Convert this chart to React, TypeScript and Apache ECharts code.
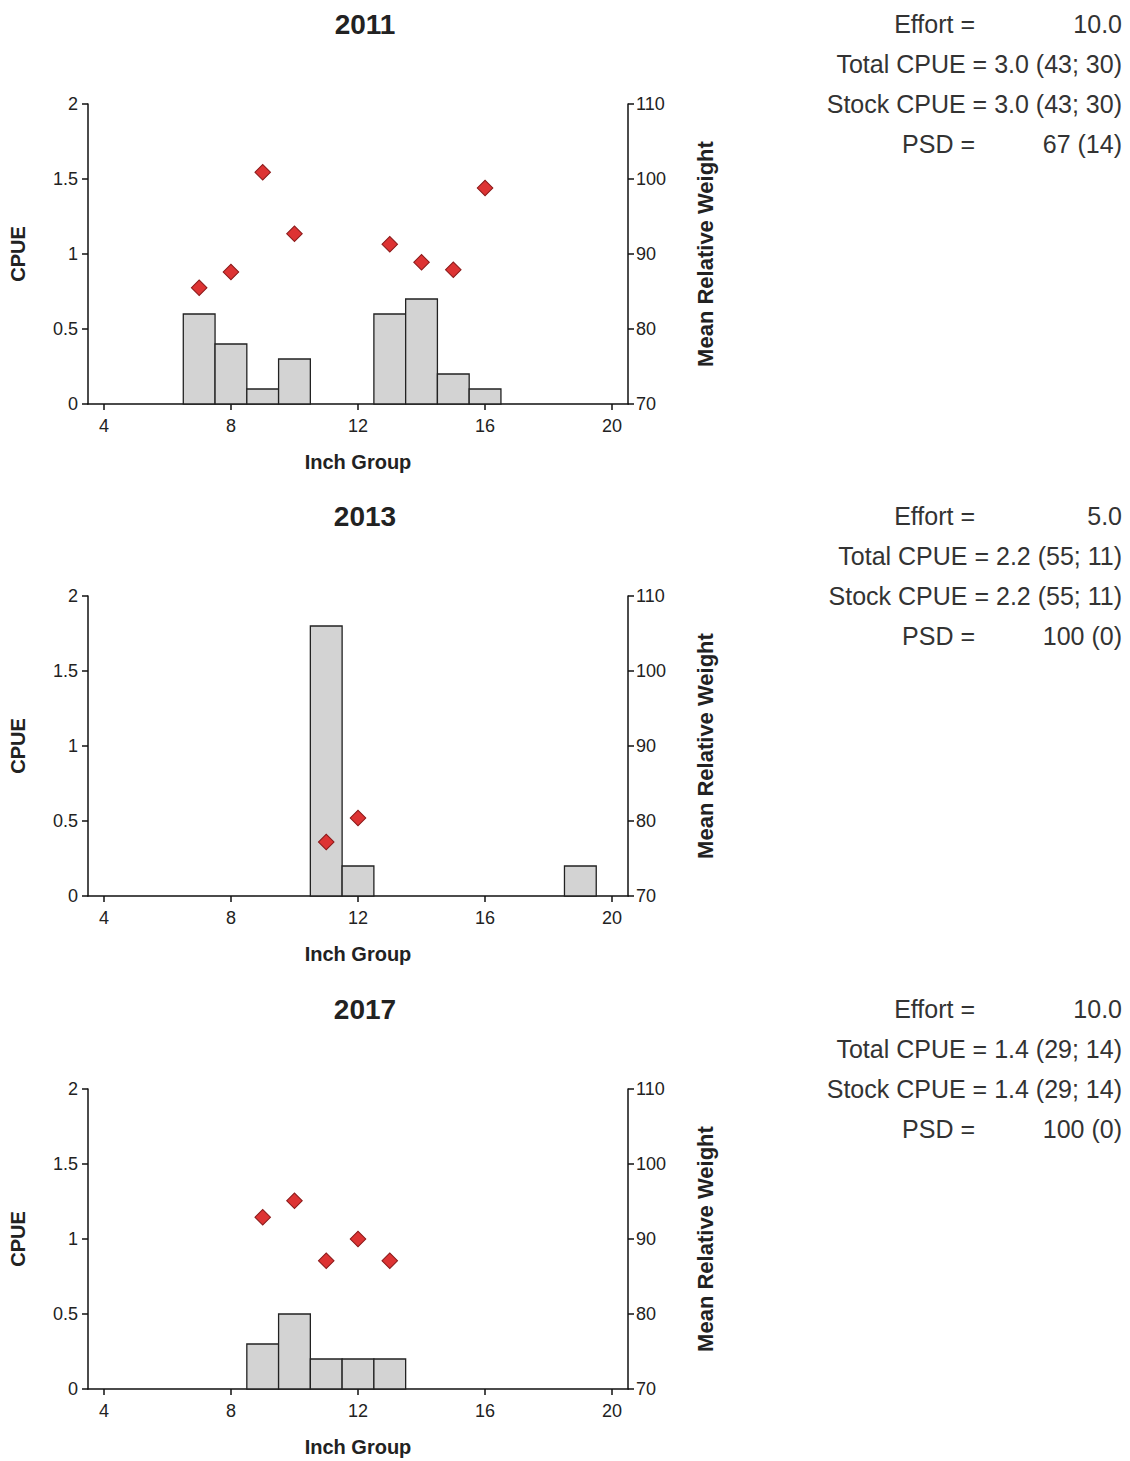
import { useEffect, useRef } from 'react';
import * as echarts from 'echarts';

const YEARS = ['2011', '2013', '2017'];
const BAR_X = [
  [7, 8, 9, 10, 13, 14, 15, 16],
  [11, 12, 19],
  [9, 10, 11, 12, 13],
];
const BAR_CPUE = [
  [0.6, 0.4, 0.1, 0.3, 0.6, 0.7, 0.2, 0.1],
  [1.8, 0.2, 0.2],
  [0.3, 0.5, 0.2, 0.2, 0.2],
];
const WR_X = [
  [7, 8, 9, 10, 13, 14, 15, 16],
  [11, 12],
  [9, 10, 11, 12, 13],
];
const WR_VAL = [
  [85.5, 87.6, 100.9, 92.7, 91.3, 88.9, 87.9, 98.8],
  [77.2, 80.4],
  [92.9, 95.1, 87.1, 90.0, 87.1],
];
const STATS_LABELS = ['Effort =', 'Total CPUE =', 'Stock CPUE =', 'PSD ='];
const STATS_VALUES = [
  ['10.0', '3.0 (43; 30)', '3.0 (43; 30)', '67 (14)'],
  ['5.0', '2.2 (55; 11)', '2.2 (55; 11)', '100 (0)'],
  ['10.0', '1.4 (29; 14)', '1.4 (29; 14)', '100 (0)'],
];
const X_TICKS = [4, 8, 12, 16, 20];

const FONT = 'Liberation Sans, Arial, sans-serif';
const TOPS = [104, 596, 1089];

export default function App() {
  const ref = useRef<HTMLDivElement>(null);

  useEffect(() => {
    if (!ref.current) return;
    document.body.style.margin = '0';
    const chart = echarts.init(ref.current, null, { renderer: 'svg' });

    const grid: any[] = [];
    const xAxis: any[] = [];
    const yAxis: any[] = [];
    const series: any[] = [];
    const graphic: any[] = [];
    const axisLine = { show: true, lineStyle: { color: '#111', width: 1.5 } };
    const tick = { show: true, length: 6, lineStyle: { color: '#111', width: 1.5 } };
    const axisLabel = { color: '#222', fontSize: 18, fontFamily: FONT };
    const nameStyle = { fontSize: 20, fontWeight: 'bold', color: '#222', fontFamily: FONT };

    TOPS.forEach((top, i) => {
      grid.push({ left: 88, top, width: 540, height: 300 });
      xAxis.push({
        type: 'value', gridIndex: i, min: 3.5, max: 20.5,
        name: 'Inch Group', nameLocation: 'middle', nameGap: 48,
        nameTextStyle: nameStyle,
        axisLine, splitLine: { show: false },
        axisTick: { ...tick, customValues: X_TICKS },
        axisLabel: { ...axisLabel, customValues: X_TICKS, margin: 13 },
      });
      yAxis.push({
        type: 'value', gridIndex: i, min: 0, max: 2, interval: 0.5,
        name: 'CPUE', nameLocation: 'middle', nameGap: 60, nameRotate: 90,
        nameTextStyle: nameStyle,
        axisLine, splitLine: { show: false },
        axisTick: tick,
        axisLabel: { ...axisLabel, margin: 10 },
      });
      yAxis.push({
        type: 'value', gridIndex: i, position: 'right', min: 70, max: 110, interval: 10,
        name: 'Mean Relative Weight', nameLocation: 'middle', nameGap: 66, nameRotate: 90,
        nameTextStyle: { ...nameStyle, fontSize: 22 },
        axisLine, splitLine: { show: false },
        axisTick: tick,
        axisLabel: { ...axisLabel, margin: 8 },
      });
      series.push({
        type: 'custom', xAxisIndex: i, yAxisIndex: i * 2,
        data: BAR_X[i].map((x, k) => [x, BAR_CPUE[i][k]]),
        renderItem: (_p: any, api: any) => {
          const x = api.value(0);
          const y = api.value(1);
          const a = api.coord([x - 0.5, y]);
          const b = api.coord([x + 0.5, 0]);
          return {
            type: 'rect',
            shape: { x: a[0], y: a[1], width: b[0] - a[0], height: b[1] - a[1] },
            style: { fill: '#d3d3d3', stroke: '#222', lineWidth: 1.3 },
          };
        },
        z: 2,
      });
      series.push({
        type: 'scatter', xAxisIndex: i, yAxisIndex: i * 2 + 1,
        data: WR_X[i].map((x, k) => [x, WR_VAL[i][k]]),
        symbol: 'rect', symbolSize: 11, symbolRotate: 45,
        itemStyle: { color: '#dd3333', borderColor: '#8a1a1a', borderWidth: 1, opacity: 1 },
        z: 3,
      });
      graphic.push({
        type: 'text', x: 365, y: top - 80,
        style: {
          text: YEARS[i], fontSize: 28, fontWeight: 'bold', fill: '#222',
          fontFamily: FONT, textAlign: 'center', textVerticalAlign: 'middle',
        },
      });
      STATS_LABELS.forEach((lab, k) => {
        const y = top - 80 + k * 40;
        const txt = { fontSize: 25, fill: '#333', fontFamily: FONT, textAlign: 'right', textVerticalAlign: 'middle' };
        if (k === 1 || k === 2) {
          graphic.push({ type: 'text', x: 1122, y, style: { ...txt, text: `${lab} ${STATS_VALUES[i][k]}` } });
        } else {
          graphic.push({ type: 'text', x: 975, y, style: { ...txt, text: lab } });
          graphic.push({ type: 'text', x: 1122, y, style: { ...txt, text: STATS_VALUES[i][k] } });
        }
      });
    });

    chart.setOption({
      animation: false,
      backgroundColor: '#fff',
      grid, xAxis, yAxis, series, graphic,
    });
    return () => chart.dispose();
  }, []);

  return <div ref={ref} style={{ width: 1130, height: 1461 }} />;
}
